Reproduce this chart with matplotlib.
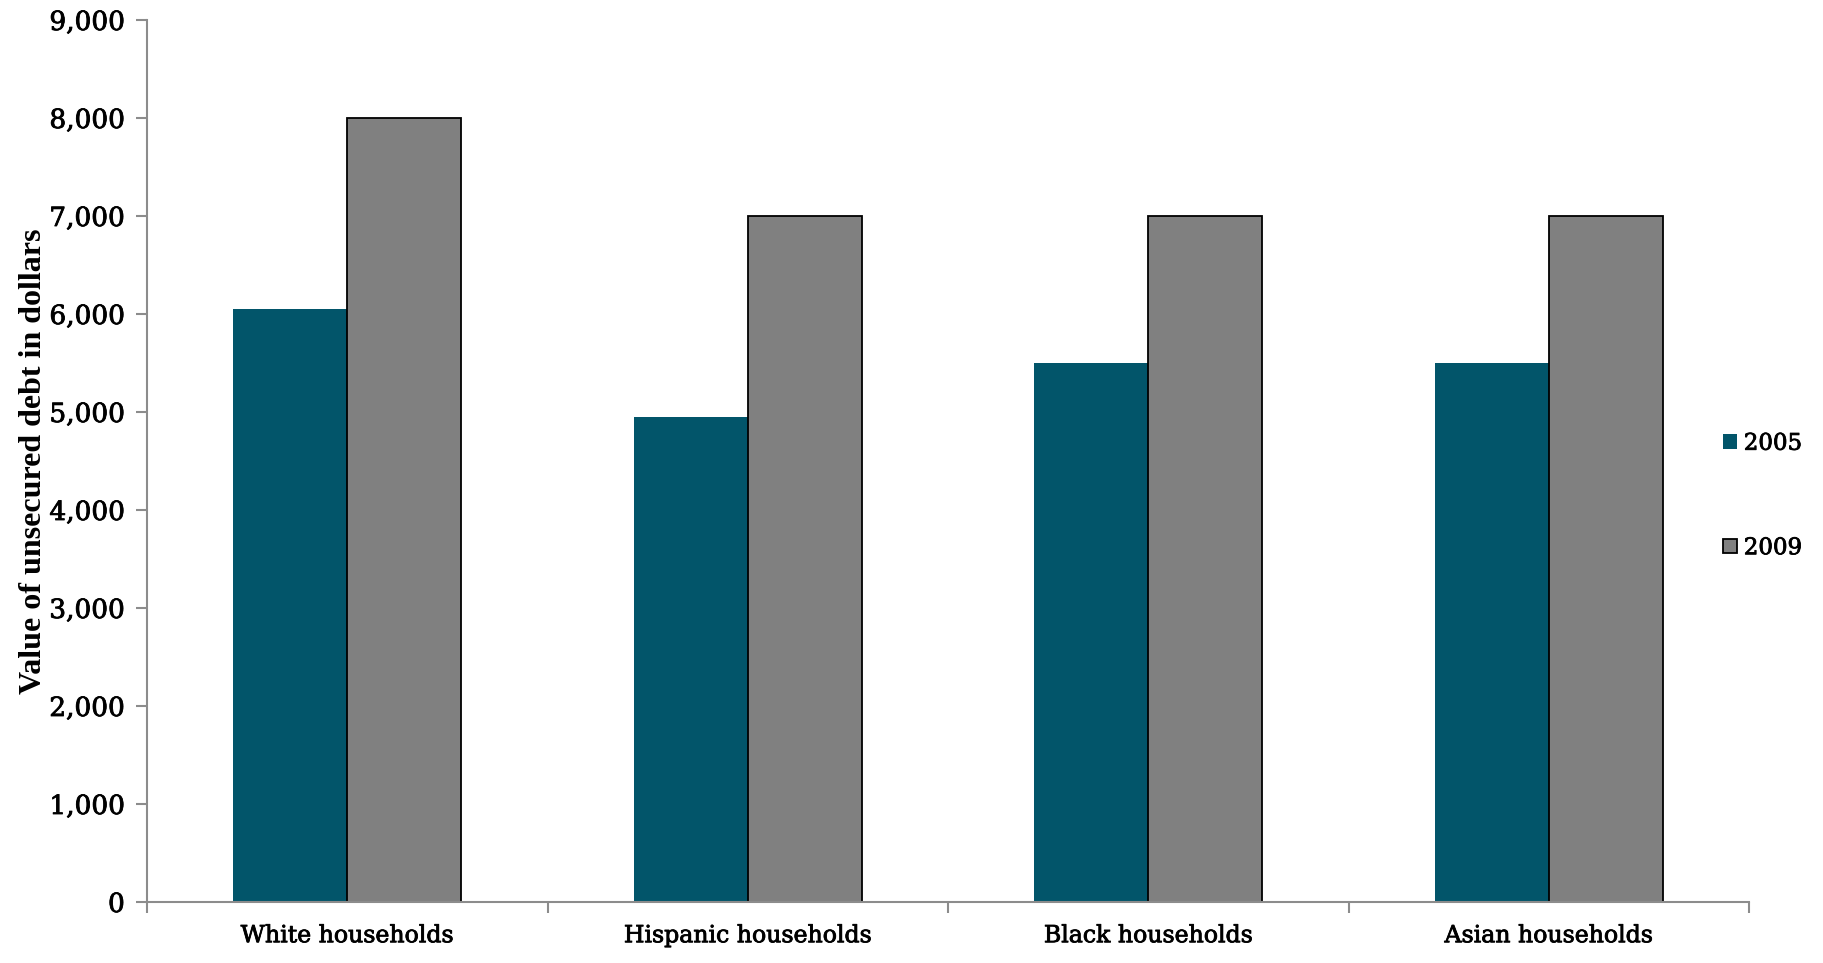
import matplotlib
matplotlib.use("Agg")
import matplotlib.pyplot as plt
import matplotlib.patheffects as pe
import numpy as np
from matplotlib.ticker import FuncFormatter, FixedLocator

categories = ["White households", "Hispanic households", "Black households", "Asian households"]
debt_2005 = [6050, 4950, 5500, 5500]
debt_2009 = [8000, 7000, 7000, 7000]
series_labels = ["2005", "2009"]

teal = "#02556a"
grey = "#808080"
axis_grey = "#8c8c8c"
tick_font = "DejaVu Serif"
# slightly heavier strokes for the serif text
heavy = [pe.withStroke(linewidth=0.6, foreground="black")]

fig = plt.figure(figsize=(18.23, 9.63), dpi=100)
ax = fig.add_axes([147 / 1823, 61 / 963, (1749 - 147) / 1823, (902 - 20) / 963])

x = np.arange(len(categories))
w = 0.285
b1 = ax.bar(x - w / 2, debt_2005, width=w, color=teal, edgecolor="none", label=series_labels[0])
b2 = ax.bar(x + w / 2, debt_2009, width=w, color=grey, edgecolor="black", linewidth=1.3,
            label=series_labels[1])

ax.set_xlim(-0.5, len(categories) - 0.5)
ax.set_ylim(0, 9000)
ax.set_yticks(np.arange(0, 9001, 1000))
ax.yaxis.set_major_formatter(FuncFormatter(lambda v, p: f"{int(v):,}"))

# category labels centred, tick marks at the group boundaries
ax.set_xticks(x)
ax.set_xticklabels(categories, fontsize=17, family=tick_font)
ax.tick_params(axis="x", which="major", length=0, pad=16)
ax.xaxis.set_minor_locator(FixedLocator(np.arange(-0.5, len(categories), 1.0)))
ax.tick_params(axis="x", which="minor", length=8, width=1.5, color=axis_grey, direction="out")
ax.tick_params(axis="y", length=8, width=1.5, color=axis_grey, direction="out", pad=8)
for lab in ax.get_yticklabels():
    lab.set_family(tick_font)
    lab.set_fontsize(19)
for lab in ax.get_yticklabels() + ax.get_xticklabels():
    lab.set_path_effects(heavy)

for side in ["top", "right"]:
    ax.spines[side].set_visible(False)
for side in ["left", "bottom"]:
    ax.spines[side].set_color(axis_grey)
    ax.spines[side].set_linewidth(1.5)

ax.set_ylabel("Value of unsecured debt in dollars", family="Liberation Serif",
              fontweight="bold", fontsize=23, labelpad=1)

leg = fig.legend(handles=[b1, b2], labels=series_labels, loc="center left",
                 bbox_to_anchor=(1714 / 1823, 1 - 496 / 963), frameon=False,
                 prop={"family": tick_font, "size": 16.5}, labelspacing=3.6,
                 handlelength=0.6, handleheight=0.6, handletextpad=0.3, borderaxespad=0)
for t in leg.get_texts():
    t.set_path_effects(heavy)

fig.savefig("out.png", dpi=100)
